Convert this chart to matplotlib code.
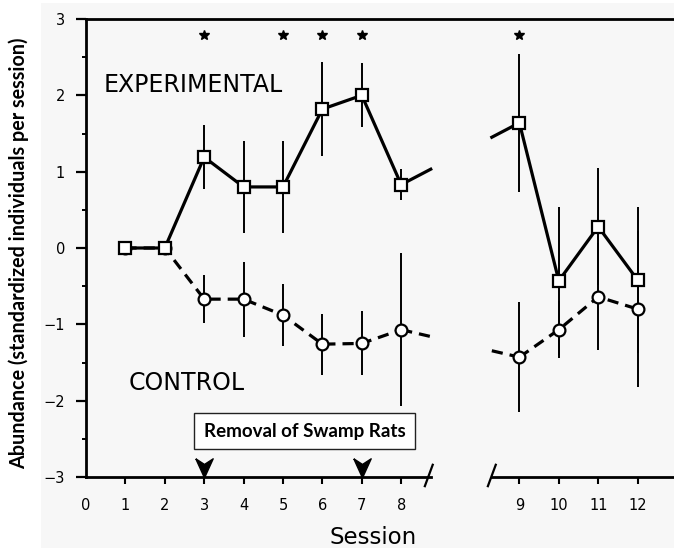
import numpy as np
import matplotlib.pyplot as plt
from matplotlib.patches import Rectangle

# data
sessions = [1, 2, 3, 4, 5, 6, 7, 8, 9, 10, 11, 12]
exp_mean = [0, 0, 1.19, 0.80, 0.80, 1.82, 2.00, 0.83, 1.64, -0.43, 0.28, -0.42]
exp_err = [0, 0, 0.42, 0.60, 0.60, 0.62, 0.42, 0.20, 0.90, 0.97, 0.77, 0.96]
ctl_mean = [0, 0, -0.67, -0.67, -0.88, -1.26, -1.25, -1.07, -1.43, -1.07, -0.64, -0.80]
ctl_err = [0, 0, 0.31, 0.49, 0.41, 0.40, 0.42, 1.00, 0.72, 0.37, 0.70, 1.02]
star_sessions = [3, 5, 6, 7, 9]
removal_sessions = [3, 7]
tick_sessions = [0, 1, 2, 3, 4, 5, 6, 7, 8, 9, 10, 11, 12]


def pos(s):
    # broken axis: sessions after 8 are shifted right by two units
    s = np.asarray(s, dtype=float)
    return np.where(s > 8, s + 2, s)


GAP_L, GAP_R = 8.75, 10.3

fig = plt.figure(figsize=(6.74, 5.48), dpi=100)
fig.patch.set_facecolor('white')
fig.patches.append(Rectangle((41 / 674, 0), 1, 545 / 548, transform=fig.transFigure,
                             facecolor='#f7f7f7', edgecolor='none', zorder=-10))

ax = fig.add_axes([86 / 674, 71 / 548, 588 / 674, 458 / 548])
ax.set_facecolor('none')
ax.set_xlim(0, 588 / 39.4)
ax.set_ylim(-3, 3)

x = pos(sessions)
left = np.asarray(sessions) <= 8
right = ~left
em, ee = np.array(exp_mean), np.array(exp_err)
cm, ce = np.array(ctl_mean), np.array(ctl_err)

# error bars
eb = ee > 0
ax.vlines(x[eb], (em - ee)[eb], (em + ee)[eb], color='black', lw=1.4, zorder=2)
cb = ce > 0
ax.vlines(x[cb], (cm - ce)[cb], (cm + ce)[cb], color='black', lw=1.4, zorder=2)

dash = (0, (3.5, 2.2))
for mean, style in [(em, '-'), (cm, dash)]:
    ax.plot(x[left], mean[left], color='black', lw=2.3, linestyle=style, zorder=3)
    ax.plot(x[right], mean[right], color='black', lw=2.3, linestyle=style, zorder=3)
    # stubs across the axis break
    x8, x9 = x[7], x[8]
    v8, v9 = mean[7], mean[8]
    f = lambda xx: v8 + (v9 - v8) * (xx - x8) / (x9 - x8)
    ax.plot([x8, GAP_L], [v8, f(GAP_L)], color='black', lw=2.3, linestyle=style, zorder=3)
    ax.plot([GAP_R, x9], [f(GAP_R), v9], color='black', lw=2.3, linestyle=style, zorder=3)

ax.plot(x, cm, linestyle='none', marker='o', ms=8.5, mfc='white', mec='black',
        mew=1.6, zorder=4)
ax.plot(x, em, linestyle='none', marker='s', ms=9, mfc='white', mec='black',
        mew=1.6, zorder=5)

# significance stars
ax.plot(pos(star_sessions), [2.79] * len(star_sessions), linestyle='none',
        marker='*', ms=7, color='black', clip_on=False, zorder=6)

# removal arrows
arrow = [(-1, 1), (0, 0.35), (1, 1), (0, -1.2), (-1, 1)]
ax.plot(pos(removal_sessions), [-2.87] * len(removal_sessions), linestyle='none',
        marker=arrow, ms=15, color='black', zorder=6, clip_on=False)

ax.text(0.45, 2.13, 'EXPERIMENTAL', fontsize=17, va='center', ha='left')
ax.text(1.07, -1.77, 'CONTROL', fontsize=17, va='center', ha='left')
ax.text(5.55, -2.40, 'Removal of Swamp Rats', fontsize=13.5, fontweight='bold',
        family='Lato', ha='center', va='center',
        bbox=dict(boxstyle='square,pad=0.5', facecolor='white', edgecolor='#222222', lw=1))

# axes styling
ax.spines['right'].set_visible(False)
ax.spines['bottom'].set_visible(False)
ax.spines['left'].set_linewidth(2)
ax.spines['top'].set_linewidth(2)
ax.set_yticks([-3, -2, -1, 0, 1, 2, 3])
ax.set_yticklabels(['\u22123', '\u22122', '\u22121', '0', '1', '2', '3'])
ax.set_yticks([-2.5, -1.5, -0.5, 0.5, 1.5, 2.5], minor=True)
ax.tick_params(axis='y', which='major', direction='out', length=7, width=1.6,
               labelsize=10.5, pad=8)
ax.tick_params(axis='y', which='minor', direction='out', length=3, width=1.4)
ax.set_xticks(pos(tick_sessions))
ax.set_xticklabels([str(s) for s in tick_sessions])
ax.tick_params(axis='x', direction='out', length=5, width=1.5, labelsize=10.5, pad=10)
ax.xaxis.get_major_ticks()[0].tick1line.set_visible(False)

# broken bottom axis with slashes
ax.plot([0, GAP_L], [-3, -3], color='black', lw=2, clip_on=False, zorder=5)
ax.plot([GAP_R, ax.get_xlim()[1]], [-3, -3], color='black', lw=2, clip_on=False, zorder=5)
for gx in [GAP_L - 0.05, GAP_R]:
    ax.plot([gx - 0.1, gx + 0.1], [-3.12, -2.84], color='black', lw=1.6, clip_on=False)

fig.text(373 / 674, 1 - 537 / 548, 'Session', fontsize=16.5, ha='center', va='center')
fig.text(19 / 674, 1 - 253 / 548, 'Abundance (standardized individuals per session)',
         rotation=90, fontsize=14.2, fontweight='bold', family='Lato',
         ha='center', va='center')

fig.savefig('out.png', dpi=100)
